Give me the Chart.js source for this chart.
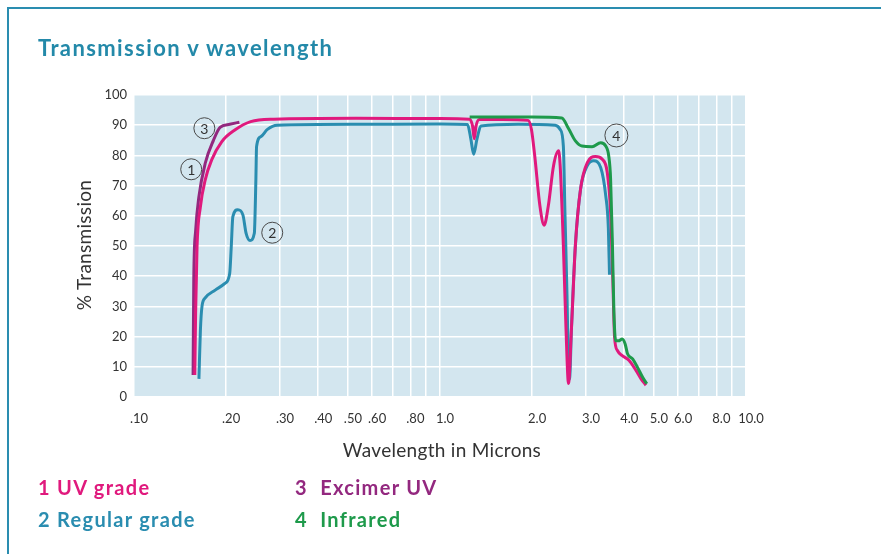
<!DOCTYPE html>
<html>
<head>
<meta charset="utf-8">
<script src="https://cdn.jsdelivr.net/npm/chart.js@4.4.1/dist/chart.umd.min.js"></script>
<style>
    body { margin: 0; background: #fff; }
    #wrap { position: relative; width: 881px; height: 554px; overflow: hidden; background: #fff; font-family: Lato, "DejaVu Sans", sans-serif; }
    #frame { position: absolute; left: 7px; top: 7px; right: -4px; bottom: -4px; border-top: 2px solid #2a8db0; border-left: 2px solid #2a8db0; }
    #c { position: absolute; left: 0; top: 0; }
    .txt { position: absolute; white-space: nowrap; }
    #title { left: 38px; top: 34px; line-height: 28px; font-size: 22px; font-weight: 700; letter-spacing: 1.4px; color: #2389a9; }
    #ytitle { left: -16px; top: 234px; width: 200px; line-height: 22px; text-align: center; font-size: 19px; letter-spacing: 0.3px; color: #333; transform: rotate(-90deg); }
    #xtitle { left: 342px; top: 439px; width: 200px; line-height: 22px; text-align: center; font-size: 19px; letter-spacing: 0.3px; color: #333; }
    .leg { line-height: 22px; font-size: 20px; font-weight: 700; letter-spacing: 1.3px; }
</style>
</head>
<body>
<div id="wrap">
    <div id="frame"></div>
    <canvas id="c" width="881" height="554"></canvas>
    <div class="txt" id="title">Transmission v wavelength</div>
    <div class="txt" id="ytitle">% Transmission</div>
    <div class="txt" id="xtitle">Wavelength in Microns</div>
    <div class="txt leg" style="left:38px;top:476px;color:#e0197d">1 UV grade</div>
    <div class="txt leg" style="left:38px;top:508px;color:#2a8db0">2 Regular grade</div>
    <div class="txt leg" style="left:295px;top:476px;color:#93287f">3&nbsp; Excimer UV</div>
    <div class="txt leg" style="left:295px;top:508px;color:#1e9a4b">4&nbsp; Infrared</div>
</div>
<script>
// Wavelength (microns) / % transmission
const uvX = [0.158, 0.159, 0.1607, 0.1648, 0.1709, 0.1794, 0.1934, 0.2135, 0.2406, 0.2866, 0.53, 1.0, 1.249, 1.278, 1.294, 1.311, 1.345, 1.6, 1.94, 1.99, 2.04, 2.12, 2.19, 2.26, 2.35, 2.44, 2.47, 2.53, 2.58, 2.63, 2.69, 2.77, 2.88, 3.03, 3.22, 3.39, 3.52, 3.61, 3.67, 3.72, 3.80, 3.94, 4.15, 4.37, 4.54, 4.71];
const uvY = [7.3, 27.8, 49.8, 63, 71.9, 78.5, 84.5, 88.4, 91.2, 92, 92.3, 92.2, 92, 89.7, 85.5, 89.7, 91.9, 91.9, 91.6, 88.6, 79.8, 63.4, 56.9, 63.4, 76.6, 81.5, 76.6, 50.3, 23, 4.5, 23, 50.3, 68.9, 77.6, 79.6, 78.7, 74.4, 61.2, 39.4, 19.7, 15.4, 13.7, 12.1, 8.8, 6.0, 3.9];

const regX = [0.163, 0.1648, 0.1668, 0.1709, 0.1842, 0.1982, 0.2055, 0.2079, 0.2104, 0.2183, 0.2269, 0.2325, 0.2394, 0.2473, 0.2502, 0.2515, 0.2597, 0.2729, 0.2937, 0.53, 1.0, 1.23, 1.262, 1.288, 1.32, 1.36, 1.8, 2.38, 2.47, 2.53, 2.56, 2.60, 2.63, 2.65, 2.69, 2.77, 2.88, 3.03, 3.18, 3.35, 3.48, 3.55, 3.58];
const regY = [6, 22, 30, 32.8, 35.4, 37.6, 41, 49.8, 59.7, 62, 60.3, 54.2, 51.8, 54.2, 71.9, 82.9, 86.2, 88.6, 90, 90.3, 90.4, 90.2, 85.3, 80.4, 85.3, 89.7, 90.3, 90, 88.6, 83.1, 61.3, 34, 8.8, 6, 23, 50.3, 68.9, 76.6, 78.2, 76, 66.7, 55.8, 40.5];

const excX = [0.156, 0.1568, 0.159, 0.1628, 0.1709, 0.1818, 0.1911, 0.2056, 0.221];
const excY = [7.3, 39, 55, 66, 77.4, 85, 89.3, 90.3, 91];

const irX = [1.25, 1.5, 2.0, 2.5, 2.63, 2.77, 2.91, 3.14, 3.35, 3.48, 3.56, 3.61, 3.66, 3.70, 3.75, 3.83, 3.94, 4.03, 4.10, 4.26, 4.42, 4.59, 4.74];
const irY = [92.7, 92.7, 92.7, 92.4, 88.9, 84.8, 83.1, 82.9, 84.2, 83.1, 79.8, 72.2, 50.3, 28.5, 18.6, 18.6, 19.2, 17.5, 14.3, 12.6, 9.8, 6.6, 4.4];

// griglia asse x e relative etichette ('' = solo linea)
const xGridValues = [0.1, 0.2, 0.3, 0.4, 0.5, 0.6, 0.7, 0.8, 0.9, 1, 2, 3, 4, 5, 6, 7, 8, 9, 10];
const xTickLabels = ['.10', '.20', '.30', '.40', '.50', '.60', '', '.80', '', '1.0', '2.0', '3.0', '4.0', '5.0', '6.0', '', '8.0', '', '10.0'];

// numeri cerchiati sulle curve
const markerLabels = ['1', '2', '3', '4'];
const markerX = [0.1538, 0.283, 0.1698, 3.77];
const markerY = [75.4, 54.4, 89.0, 86.6];

const toPoints = (xs, ys) => xs.map((x, i) => ({ x: x, y: ys[i] }));

const plotBg = {
    id: 'plotBg',
    beforeDraw(chart) {
        const a = chart.chartArea;
        const ctx = chart.ctx;
        ctx.save();
        ctx.fillStyle = '#d3e6ef';
        ctx.fillRect(a.left, a.top, a.right - a.left, a.bottom - a.top);
        ctx.restore();
    }
};

const circledNumbers = {
    id: 'circledNumbers',
    afterDatasetsDraw(chart) {
        const ctx = chart.ctx;
        const sx = chart.scales.x, sy = chart.scales.y;
        ctx.save();
        markerLabels.forEach((lab, i) => {
            const px = sx.getPixelForValue(markerX[i]);
            const py = sy.getPixelForValue(markerY[i]);
            const r = lab === '4' ? 11.5 : 10.5;
            ctx.beginPath();
            ctx.arc(px, py, r, 0, Math.PI * 2);
            ctx.lineWidth = 1;
            ctx.strokeStyle = '#4a4a4a';
            ctx.stroke();
            ctx.fillStyle = '#333';
            ctx.font = '14px Lato, sans-serif';
            ctx.textAlign = 'center';
            ctx.textBaseline = 'middle';
            ctx.fillText(lab, px, py + 1);
        });
        ctx.restore();
    }
};

const lineOpts = { borderWidth: 3, pointRadius: 0, fill: false, cubicInterpolationMode: 'monotone' };

new Chart(document.getElementById('c'), {
    type: 'line',
    data: {
        datasets: [
            { label: '4 Infrared', data: toPoints(irX, irY), borderColor: '#1e9a4b', order: 0, ...lineOpts },
            { label: '1 UV grade', data: toPoints(uvX, uvY), borderColor: '#e0197d', order: 1, ...lineOpts },
            { label: '3 Excimer UV', data: toPoints(excX, excY), borderColor: '#93287f', order: 2, ...lineOpts },
            { label: '2 Regular grade', data: toPoints(regX, regY), borderColor: '#2a8db0', order: 3, ...lineOpts }
        ]
    },
    options: {
        responsive: false,
        animation: false,
        devicePixelRatio: 1,
        layout: { padding: { left: 0, top: 95, right: 135, bottom: 0 } },
        plugins: {
            legend: { display: false },
            title: { display: false },
            tooltip: { enabled: false }
        },
        scales: {
            x: {
                type: 'logarithmic',
                min: 0.1,
                max: 10,
                afterBuildTicks: s => { s.ticks = xGridValues.map(v => ({ value: v })); },
                afterFit: s => { s.height = 157; },
                grid: { color: '#ffffff', lineWidth: 1.5, drawTicks: false },
                border: { display: false },
                ticks: {
                    autoSkip: false,
                    maxRotation: 0,
                    padding: 14,
                    labelOffset: 5,
                    color: '#333',
                    font: { family: 'Lato', size: 13 },
                    callback: (v, i) => xTickLabels[i]
                }
            },
            y: {
                min: 0,
                max: 100,
                afterFit: s => { s.width = 134; },
                grid: { color: '#ffffff', lineWidth: 1.5, drawTicks: false },
                border: { display: false },
                ticks: {
                    stepSize: 10,
                    padding: 7,
                    color: '#333',
                    font: { family: 'Lato', size: 13 }
                }
            }
        }
    },
    plugins: [plotBg, circledNumbers]
});
</script>
</body>
</html>
